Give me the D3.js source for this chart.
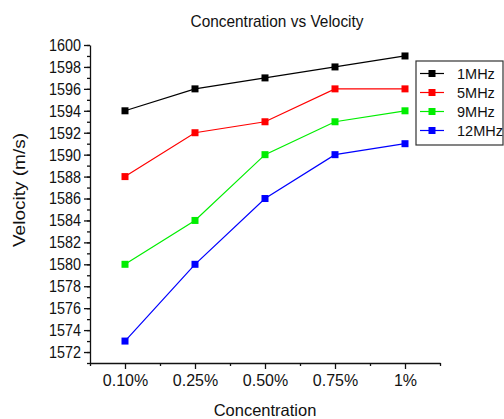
<!DOCTYPE html>
<html>
<head>
<meta charset="utf-8">
<script src="https://cdn.jsdelivr.net/npm/d3@7"></script>
<style>
  html, body { margin: 0; padding: 0; background: #fff; }
  svg { display: block; font-family: "Liberation Sans", Arial, sans-serif; }
</style>
</head>
<body>
<svg id="chart" width="504" height="419"></svg>
<script>
// Concentration categories along the x axis
const categories = ["0.10%", "0.25%", "0.50%", "0.75%", "1%"];
// Velocity (m/s) per frequency
const seriesNames = ["1MHz", "5MHz", "9MHz", "12MHz"];
const seriesColors = ["#000000", "#ff0000", "#00ee00", "#0000ff"];
const v1MHz  = [1594, 1596, 1597, 1598, 1599];
const v5MHz  = [1588, 1592, 1593, 1596, 1596];
const v9MHz  = [1580, 1584, 1590, 1593, 1594];
const v12MHz = [1573, 1580, 1586, 1590, 1591];
const yTicks = d3.range(1572, 1601, 2);

const seriesValues = [v1MHz, v5MHz, v9MHz, v12MHz];

const svg = d3.select("#chart");
const plotLeft = 90, plotRight = 440, plotTop = 45, plotBottom = 363;

const x = d3.scaleLinear().domain([-0.5, categories.length - 0.5]).range([plotLeft, plotRight]);
const y = d3.scaleLinear().domain([1571, 1600]).range([plotBottom, plotTop]);

// Title (slightly condensed lettering)
svg.append("text")
  .attr("x", 277).attr("y", 27)
  .attr("text-anchor", "middle")
  .attr("font-size", 17)
  .attr("textLength", 173)
  .attr("lengthAdjust", "spacingAndGlyphs")
  .attr("fill", "#111")
  .text("Concentration vs Velocity");

// Y axis: labelled major ticks every 2, minor ticks in between
const yAxis = svg.append("g").attr("transform", `translate(${plotLeft},0)`);
yAxis.append("g")
  .call(d3.axisLeft(y).tickValues(d3.range(1571, 1601, 1)).tickSize(3).tickFormat(""))
  .call(g => g.select(".domain").remove());
yAxis.append("g")
  .call(d3.axisLeft(y).tickValues(yTicks).tickSize(6).tickSizeOuter(0).tickPadding(3).tickFormat(d3.format("d")))
  .call(g => g.selectAll("text")
    .attr("font-size", 17)
    .attr("textLength", 32)
    .attr("lengthAdjust", "spacingAndGlyphs")
    .attr("fill", "#111")
    .attr("font-family", "Liberation Sans, Arial, sans-serif"));
yAxis.selectAll("line, path").attr("stroke", "#111").attr("stroke-width", 1.3);

// X axis: major ticks at categories, minor ticks halfway
const xAxis = svg.append("g").attr("transform", `translate(0,${plotBottom})`);
xAxis.append("g")
  .call(d3.axisBottom(x).tickValues(d3.range(-0.5, categories.length, 1)).tickSize(3).tickFormat(""))
  .call(g => g.select(".domain").remove());
xAxis.append("g")
  .call(d3.axisBottom(x).tickValues(d3.range(categories.length)).tickSize(6).tickSizeOuter(0).tickPadding(6)
    .tickFormat(i => categories[i]))
  .call(g => g.selectAll("text").attr("font-size", 16).attr("fill", "#111").attr("font-family", "Liberation Sans, Arial, sans-serif"));
xAxis.selectAll("line, path").attr("stroke", "#111").attr("stroke-width", 1.3);

// Axis titles
svg.append("text")
  .attr("x", 265).attr("y", 416)
  .attr("text-anchor", "middle")
  .attr("font-size", 16.5)
  .attr("fill", "#111")
  .text("Concentration");
svg.append("text")
  .attr("transform", "translate(25,190) rotate(-90)")
  .attr("text-anchor", "middle")
  .attr("font-size", 17)
  .attr("textLength", 114)
  .attr("lengthAdjust", "spacingAndGlyphs")
  .attr("fill", "#111")
  .text("Velocity (m/s)");

// Lines and square markers
const line = d3.line().x((d, i) => x(i)).y(d => y(d));
seriesValues.forEach((vals, s) => {
  const g = svg.append("g");
  g.append("path")
    .attr("d", line(vals))
    .attr("fill", "none")
    .attr("stroke", seriesColors[s])
    .attr("stroke-width", 1.2);
  g.selectAll("rect").data(vals).join("rect")
    .attr("x", (d, i) => x(i) - 3.5)
    .attr("y", d => y(d) - 3.5)
    .attr("width", 7).attr("height", 7)
    .attr("fill", seriesColors[s]);
});

// Legend
const legend = svg.append("g").attr("transform", "translate(416,61)");
legend.append("rect")
  .attr("x", 0).attr("y", 0).attr("width", 87).attr("height", 84)
  .attr("fill", "#fff").attr("stroke", "#333").attr("stroke-width", 1.2);
seriesNames.forEach((name, s) => {
  const ly = 12.5 + s * 19;
  legend.append("line")
    .attr("x1", 4).attr("x2", 28).attr("y1", ly).attr("y2", ly)
    .attr("stroke", seriesColors[s]).attr("stroke-width", 1.2);
  legend.append("rect")
    .attr("x", 12.5).attr("y", ly - 3.5).attr("width", 7).attr("height", 7)
    .attr("fill", seriesColors[s]);
  legend.append("text")
    .attr("x", 41).attr("y", ly + 5)
    .attr("font-size", 14.5)
    .attr("fill", "#111")
    .text(name);
});
</script>
</body>
</html>
